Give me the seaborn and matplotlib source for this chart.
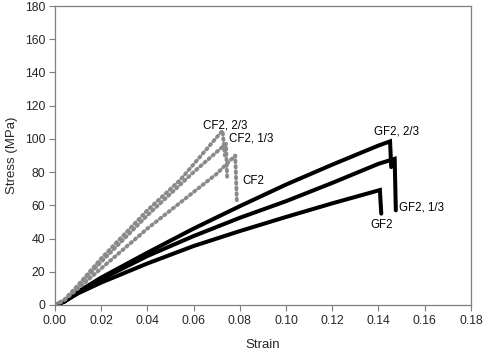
import pandas as pd
import matplotlib
matplotlib.use("Agg")
import matplotlib.pyplot as plt
import seaborn as sns

# --- datos (deformación, esfuerzo MPa) ---
GF2_23_STRAIN = [0.0, 0.004, 0.01, 0.02, 0.04, 0.06, 0.08, 0.10, 0.12, 0.14, 0.145, 0.1455]
GF2_23_STRESS = [0.0, 2.0, 8.0, 16.5, 31.5, 46.0, 59.5, 72.5, 84.5, 96.0, 98.5, 83.0]

GF2_13_STRAIN = [0.0, 0.004, 0.01, 0.02, 0.04, 0.06, 0.08, 0.10, 0.12, 0.14, 0.147, 0.1475]
GF2_13_STRESS = [0.0, 2.0, 8.0, 15.5, 29.5, 41.5, 52.5, 62.5, 73.5, 85.0, 88.0, 57.0]

GF2_STRAIN = [0.0, 0.004, 0.01, 0.02, 0.04, 0.06, 0.08, 0.10, 0.12, 0.1406, 0.1412]
GF2_STRESS = [0.0, 2.0, 7.0, 13.5, 25.0, 35.5, 44.5, 53.0, 61.2, 69.2, 55.0]

CF2_23_STRAIN = [0.0, 0.004, 0.01, 0.02, 0.04, 0.054, 0.0725, 0.0735]
CF2_23_STRESS = [0.0, 3.0, 12.0, 28.0, 57.0, 75.0, 105.0, 90.0]

CF2_13_STRAIN = [0.0, 0.004, 0.01, 0.02, 0.04, 0.06, 0.074, 0.0745]
CF2_13_STRESS = [0.0, 3.0, 11.0, 26.0, 54.0, 80.0, 97.0, 77.0]

CF2_STRAIN = [0.0, 0.004, 0.01, 0.02, 0.04, 0.06, 0.07, 0.078, 0.0787]
CF2_STRESS = [0.0, 3.0, 10.0, 22.0, 46.0, 68.0, 79.0, 90.0, 63.0]

X_TICKS = [0.00, 0.02, 0.04, 0.06, 0.08, 0.10, 0.12, 0.14, 0.16, 0.18]
Y_TICKS = [0, 20, 40, 60, 80, 100, 120, 140, 160, 180]

SERIES = [
    ("GF2, 2/3", GF2_23_STRAIN, GF2_23_STRESS),
    ("GF2, 1/3", GF2_13_STRAIN, GF2_13_STRESS),
    ("GF2", GF2_STRAIN, GF2_STRESS),
    ("CF2, 2/3", CF2_23_STRAIN, CF2_23_STRESS),
    ("CF2, 1/3", CF2_13_STRAIN, CF2_13_STRESS),
    ("CF2", CF2_STRAIN, CF2_STRESS),
]

sns.set_theme(style="ticks")
plt.rcParams["font.family"] = ["Liberation Sans", "DejaVu Sans"]

fig = plt.figure(figsize=(4.84, 3.53), dpi=100)
ax = fig.add_axes([0.1136, 0.136, 0.973 - 0.1136, 0.983 - 0.136])

for name, x, y in SERIES:
    df = pd.DataFrame({"Strain": x, "Stress": y})
    if name.startswith("CF2"):
        sns.lineplot(data=df, x="Strain", y="Stress", sort=False, ax=ax,
                     color="#8a8a8a", linewidth=2.8, linestyle=(0, (0.4, 1.0)),
                     dash_capstyle="round")
    else:
        sns.lineplot(data=df, x="Strain", y="Stress", sort=False, ax=ax,
                     color="black", linewidth=2.9, solid_joinstyle="miter")

# etiquetas de las curvas
lbl = dict(fontsize=8.3, color="black")
ax.text(0.0736, 108, "CF2, 2/3", ha="center", va="center", **lbl)
ax.text(0.0752, 100, "CF2, 1/3", ha="left", va="center", **lbl)
ax.text(0.0810, 74.5, "CF2", ha="left", va="center", **lbl)
ax.text(0.1480, 104.5, "GF2, 2/3", ha="center", va="center", **lbl)
ax.text(0.1490, 58.5, "GF2, 1/3", ha="left", va="center", **lbl)
ax.text(0.1413, 48, "GF2", ha="center", va="center", **lbl)

ax.set_xlim(0, 0.18)
ax.set_ylim(0, 180)
ax.set_xticks(X_TICKS)
ax.set_xticklabels([f"{v:.2f}" for v in X_TICKS])
ax.set_yticks(Y_TICKS)
ax.set_xlabel("Strain", fontsize=9.5, labelpad=9)
ax.set_ylabel("Stress (MPa)", fontsize=9.5, labelpad=5)
ax.tick_params(axis="both", labelsize=8.8, direction="out", length=4,
               width=0.8, color="#7f7f7f", pad=3)
for s in ax.spines.values():
    s.set_color("#7f7f7f")
    s.set_linewidth(0.9)
    s.set_visible(True)

fig.savefig("out.png", dpi=100)
